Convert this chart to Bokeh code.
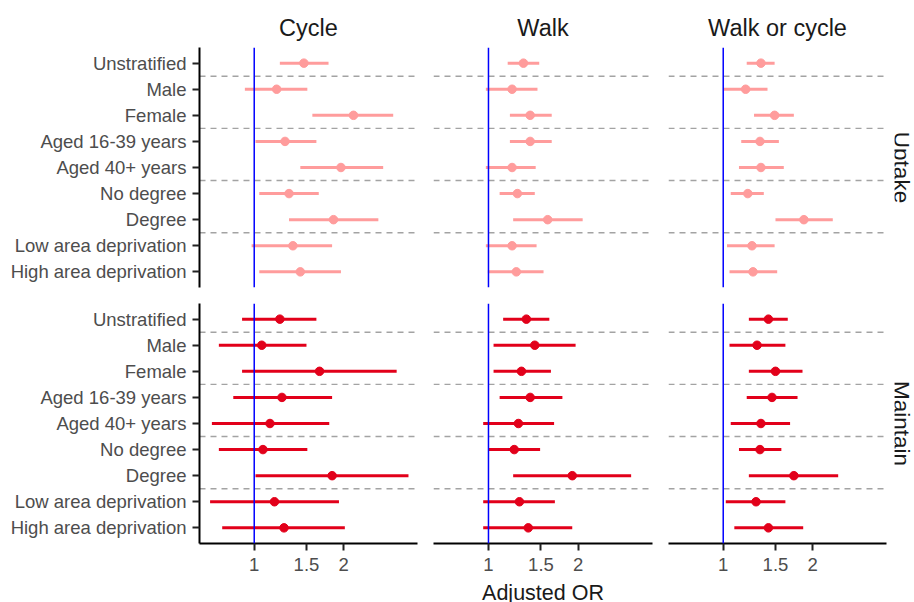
import math
from bokeh.plotting import figure
from bokeh.layouts import row, column
from bokeh.models import Range1d, FixedTicker, Span, ColumnDataSource, Spacer
from bokeh.core.properties import value
from bokeh.embed import file_html
from bokeh.resources import INLINE

# ---------------- data ----------------
categories = ["Unstratified", "Male", "Female", "Aged 16-39 years", "Aged 40+ years",
              "No degree", "Degree", "Low area deprivation", "High area deprivation"]
groups = ["All", "Sex", "Sex", "Age", "Age", "Education", "Education",
          "Deprivation", "Deprivation"]
modes = ["Cycle", "Walk", "Walk or cycle"]
phases = ["Uptake", "Maintain"]
x_ticks = [1, 1.5, 2]
x_tick_labels = ["1", "1.5", "2"]
x_title = "Adjusted OR"
ref_or = 1

cycle_uptake_or = [1.47, 1.19, 2.16, 1.27, 1.96, 1.31, 1.85, 1.35, 1.43]
cycle_uptake_lo = [1.22, 0.93, 1.57, 1.01, 1.43, 1.04, 1.31, 0.98, 1.04]
cycle_uptake_hi = [1.78, 1.51, 2.94, 1.62, 2.72, 1.65, 2.62, 1.83, 1.96]

walk_uptake_or = [1.31, 1.20, 1.38, 1.38, 1.20, 1.25, 1.58, 1.20, 1.24]
walk_uptake_lo = [1.16, 0.98, 1.18, 1.18, 0.98, 1.09, 1.21, 0.98, 0.995]
walk_uptake_hi = [1.48, 1.46, 1.63, 1.63, 1.44, 1.43, 2.07, 1.45, 1.53]

wc_uptake_or = [1.34, 1.19, 1.49, 1.33, 1.34, 1.21, 1.87, 1.25, 1.26]
wc_uptake_lo = [1.20, 1.00, 1.27, 1.15, 1.13, 1.06, 1.50, 1.03, 1.05]
wc_uptake_hi = [1.49, 1.41, 1.73, 1.54, 1.60, 1.37, 2.34, 1.49, 1.52]

cycle_maintain_or = [1.22, 1.06, 1.66, 1.24, 1.13, 1.07, 1.83, 1.17, 1.26]
cycle_maintain_lo = [0.91, 0.76, 0.91, 0.85, 0.72, 0.76, 1.01, 0.71, 0.78]
cycle_maintain_hi = [1.62, 1.50, 3.02, 1.83, 1.79, 1.51, 3.31, 1.93, 2.02]

walk_maintain_or = [1.34, 1.43, 1.29, 1.38, 1.26, 1.22, 1.91, 1.27, 1.36]
walk_maintain_lo = [1.12, 1.04, 1.04, 1.09, 0.96, 1.00, 1.21, 0.96, 0.96]
walk_maintain_hi = [1.60, 1.96, 1.62, 1.77, 1.66, 1.49, 3.01, 1.67, 1.91]

wc_maintain_or = [1.42, 1.30, 1.50, 1.46, 1.34, 1.33, 1.73, 1.29, 1.42]
wc_maintain_lo = [1.22, 1.05, 1.22, 1.20, 1.06, 1.13, 1.22, 1.02, 1.09]
wc_maintain_hi = [1.65, 1.62, 1.85, 1.78, 1.68, 1.57, 2.44, 1.62, 1.86]

results = {
    ("Uptake", "Cycle"): (cycle_uptake_or, cycle_uptake_lo, cycle_uptake_hi),
    ("Uptake", "Walk"): (walk_uptake_or, walk_uptake_lo, walk_uptake_hi),
    ("Uptake", "Walk or cycle"): (wc_uptake_or, wc_uptake_lo, wc_uptake_hi),
    ("Maintain", "Cycle"): (cycle_maintain_or, cycle_maintain_lo, cycle_maintain_hi),
    ("Maintain", "Walk"): (walk_maintain_or, walk_maintain_lo, walk_maintain_hi),
    ("Maintain", "Walk or cycle"): (wc_maintain_or, wc_maintain_lo, wc_maintain_hi),
}

# ---------------- style / layout ----------------
FONT = "Liberation Sans"
phase_colors = {"Uptake": "#FF9C9C", "Maintain": "#E2001A"}
n = len(categories)
ypos = [n - i for i in range(n)]
separators = [n - i + 0.5 for i in range(1, n) if groups[i] != groups[i - 1]]

frame_w = [218, 219, 218]
border_l = [199, 8, 8]
border_r = [8, 8, 8]
strip_w = 20
frame_h = 240
border_t = [47, 8]
border_b = [8, 37]
xlab_h = 22


def blank(p):
    p.outline_line_color = None
    p.grid.visible = False
    p.background_fill_color = "white"
    p.border_fill_color = "white"


def style_axis(ax, standoff):
    ax.major_label_text_font = FONT
    ax.major_label_text_font_size = "18.5px"
    ax.major_label_text_color = "#4D4D4D"
    ax.major_label_standoff = standoff
    ax.axis_line_color = "black"
    ax.axis_line_width = 2
    ax.major_tick_line_color = "#222222"
    ax.major_tick_line_width = 2
    ax.major_tick_out = 7
    ax.major_tick_in = 0
    ax.minor_tick_line_color = None


rows = []
for r, phase in enumerate(phases):
    figs = []
    for c, mode in enumerate(modes):
        p = figure(
            width=border_l[c] + frame_w[c] + border_r[c],
            height=border_t[r] + frame_h + border_b[r],
            x_axis_type="log",
            x_range=Range1d(0.654, 3.55),
            y_range=Range1d(0.4, n + 0.6),
            output_backend="svg",
            toolbar_location=None,
            min_border_left=border_l[c], min_border_right=border_r[c],
            min_border_top=border_t[r], min_border_bottom=border_b[r],
            x_axis_location="below" if r == 1 else None,
            y_axis_location="left" if c == 0 else None,
        )
        blank(p)

        if r == 0:
            p.title.text = mode
            p.title.align = "center"
            p.title.text_font = FONT
            p.title.text_font_size = "23.5px"
            p.title.text_font_style = "normal"
            p.title.text_color = "#1A1A1A"
            p.title.standoff = 13

        for s in separators:
            p.add_layout(Span(location=s, dimension="width", line_color="#A3A3A3",
                              line_width=1.4, line_dash="6 5", level="underlay"))

        est, lo, hi = results[(phase, mode)]
        src = ColumnDataSource(dict(y=ypos, est=est, lo=lo, hi=hi))
        col = phase_colors[phase]
        p.segment(x0="lo", y0="y", x1="hi", y1="y", source=src,
                  line_color=col, line_width=3)
        p.scatter(x="est", y="y", source=src, size=8.5, fill_color=col, line_color=col)

        p.add_layout(Span(location=ref_or, dimension="height", line_color="#0000FF",
                          line_width=1.5))

        if c == 0:
            ax = p.yaxis[0]
            ax.ticker = FixedTicker(ticks=ypos)
            ax.major_label_overrides = {y: lab for y, lab in zip(ypos, categories)}
            style_axis(ax, 6)
        if r == 1:
            ax = p.xaxis[0]
            ax.ticker = FixedTicker(ticks=x_ticks)
            ax.major_label_overrides = {t: lab for t, lab in zip(x_ticks, x_tick_labels)}
            style_axis(ax, 7)
        figs.append(p)

    # facet strip on the right
    s = figure(width=strip_w, height=border_t[r] + frame_h + border_b[r],
               x_range=Range1d(0, 1), y_range=Range1d(0, 1),
               output_backend="svg", toolbar_location=None,
               x_axis_location=None, y_axis_location=None,
               min_border_left=0, min_border_right=0,
               min_border_top=border_t[r], min_border_bottom=border_b[r])
    blank(s)
    s.text(x=[0.35], y=[0.5], text=[phase], angle=-math.pi / 2,
           text_align="center", text_baseline="alphabetic",
           text_font=value(FONT), text_font_size="22.5px", text_color="#1A1A1A")
    figs.append(s)
    rows.append(row(*figs))

# x-axis title under the middle column
xl = figure(width=frame_w[1], height=xlab_h, x_range=Range1d(0, 1), y_range=Range1d(0, 1),
            output_backend="svg", toolbar_location=None,
            x_axis_location=None, y_axis_location=None,
            min_border_left=0, min_border_right=0, min_border_top=0, min_border_bottom=0)
blank(xl)
xl.text(x=[0.5], y=[1], text=[x_title], text_align="center", text_baseline="top",
        text_font=value(FONT), text_font_size="21.5px", text_color="#1A1A1A")

left_pad = border_l[0] + frame_w[0] + border_r[0] + border_l[1]
right_pad = 914 - left_pad - frame_w[1]
bottom = row(Spacer(width=left_pad, height=xlab_h), xl, Spacer(width=right_pad, height=xlab_h))

layout = column(rows[0], rows[1], bottom)
open("out.html", "w").write(file_html(layout, INLINE))
